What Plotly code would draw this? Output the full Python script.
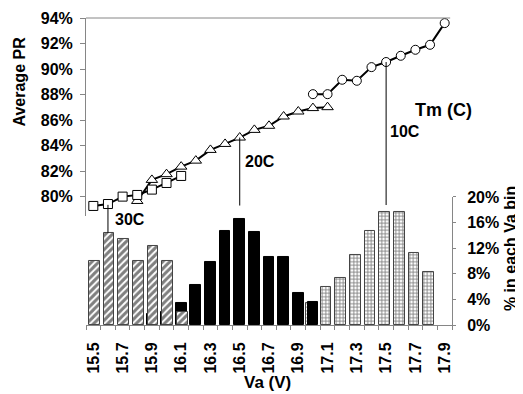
import plotly.graph_objects as go

# ---- data ----
va_tick_vals = [15.5, 15.7, 15.9, 16.1, 16.3, 16.5, 16.7, 16.9, 17.1, 17.3, 17.5, 17.7, 17.9]
va_tick_text = ["15.5", "15.7", "15.9", "16.1", "16.3", "16.5", "16.7", "16.9", "17.1", "17.3", "17.5", "17.7", "17.9"]

va_30 = [15.5, 15.6, 15.7, 15.8, 15.9, 16.0, 16.1]
pr_30 = [0.7927, 0.7942, 0.8000, 0.8013, 0.8055, 0.8107, 0.8162]

va_20 = [15.8, 15.9, 16.0, 16.1, 16.2, 16.3, 16.4, 16.5, 16.6, 16.7, 16.8, 16.9, 17.0, 17.1]
pr_20 = [0.7966, 0.8131, 0.8176, 0.8235, 0.8282, 0.8366, 0.8413, 0.8463, 0.8523, 0.8555, 0.8628, 0.8667, 0.8694, 0.8701]

va_10 = [17.0, 17.1, 17.2, 17.3, 17.4, 17.5, 17.6, 17.7, 17.8, 17.9]
pr_10 = [0.8803, 0.8803, 0.8916, 0.8908, 0.9015, 0.9055, 0.9104, 0.9151, 0.9190, 0.9360]

bin_x_30 = [15.5, 15.6, 15.7, 15.8, 15.9, 16.0, 16.1]
bin_30 = [0.100, 0.144, 0.134, 0.100, 0.123, 0.100, 0.020]

bin_x_20 = [15.9, 16.0, 16.1, 16.2, 16.3, 16.4, 16.5, 16.6, 16.7, 16.8, 16.9, 17.0]
bin_20 = [0.018, 0.021, 0.035, 0.0625, 0.098, 0.147, 0.165, 0.146, 0.107, 0.106, 0.050, 0.036]

bin_x_10 = [17.0, 17.1, 17.2, 17.3, 17.4, 17.5, 17.6, 17.7, 17.8]
bin_10 = [0.034, 0.060, 0.073, 0.109, 0.147, 0.177, 0.177, 0.113, 0.083]

FONT = "Liberation Sans, Arial, sans-serif"
AX = "#868686"
BW = 0.073

fig = go.Figure()

# bars (bottom panel, right axis)
fig.add_trace(go.Bar(
    x=bin_x_10, y=bin_10, xaxis="x", yaxis="y2", width=BW, offset=-BW / 2 - 0.01,
    marker=dict(color="white", line=dict(color="#444444", width=1),
                pattern=dict(shape="+", fgcolor="black", bgcolor="white", size=3.5, solidity=0.45)),
    showlegend=False))
fig.add_trace(go.Bar(
    x=bin_x_20, y=bin_20, xaxis="x", yaxis="y2", width=BW, offset=-BW / 2,
    marker=dict(color="black", line=dict(color="black", width=1)),
    showlegend=False))
fig.add_trace(go.Bar(
    x=bin_x_30, y=bin_30, xaxis="x", yaxis="y2", width=BW, offset=-BW / 2 + 0.008,
    marker=dict(color="white", line=dict(color="#444444", width=1),
                pattern=dict(shape="/", fgcolor="black", bgcolor="white", size=5, solidity=0.6)),
    showlegend=False))

# lines (top panel, left axis)
mk = dict(color="white", line=dict(color="black", width=1))
fig.add_trace(go.Scatter(x=va_20, y=pr_20, xaxis="x", yaxis="y", mode="lines+markers",
                         line=dict(color="black", width=2), cliponaxis=False,
                         marker=dict(symbol="triangle-up", size=10, **mk), showlegend=False))
fig.add_trace(go.Scatter(x=va_30, y=pr_30, xaxis="x", yaxis="y", mode="lines+markers",
                         line=dict(color="black", width=2), cliponaxis=False,
                         marker=dict(symbol="square", size=9, **mk), showlegend=False))
fig.add_trace(go.Scatter(x=va_10, y=pr_10, xaxis="x", yaxis="y", mode="lines+markers",
                         line=dict(color="black", width=2), cliponaxis=False,
                         marker=dict(symbol="circle", size=9, **mk), showlegend=False))

# leader lines from curves to histogram peaks
shapes = [
    dict(type="line", xref="x", x0=15.6, x1=15.6, yref="y2", ysizemode="pixel",
         yanchor=bin_30[1], y0=0, y1=28, line=dict(color="black", width=1)),
    dict(type="line", xref="x", x0=16.5, x1=16.5, yref="y", ysizemode="pixel",
         yanchor=pr_20[7], y0=0, y1=-68, line=dict(color="black", width=1)),
    dict(type="line", xref="x", x0=17.5, x1=17.5, yref="y", ysizemode="pixel",
         yanchor=pr_10[5], y0=0, y1=-143, line=dict(color="black", width=1)),
    dict(type="line", xref="paper", yref="paper", x0=0, x1=0.995, y0=1, y1=1,
         line=dict(color=AX, width=1)),
]

bold16 = dict(family=FONT, size=16, color="black", weight="bold")
ann = [
    dict(text="30C", x=0.074, y=0.343, xanchor="left", yanchor="middle"),
    dict(text="20C", x=0.430, y=0.534, xanchor="left", yanchor="middle"),
    dict(text="10C", x=0.824, y=0.629, xanchor="left", yanchor="middle"),
    dict(text="Tm (C)", x=0.893, y=0.699, xanchor="left", yanchor="middle",
         font=dict(family=FONT, size=18, color="black", weight="bold")),
    dict(text="Average PR", x=-0.1844, y=0.7915, xanchor="center", yanchor="middle", textangle=-90),
    dict(text="% in each Va bin", x=1.158, y=0.25, xanchor="center", yanchor="middle", textangle=-90),
    dict(text="Va (V)", x=0.497, y=-0.188, xanchor="center", yanchor="middle",
         font=dict(family=FONT, size=17, color="black", weight="bold")),
]
annotations = []
for a in ann:
    a.setdefault("font", bold16)
    annotations.append(dict(xref="paper", yref="paper", showarrow=False, **a))

# page body has an 8px margin: size the figure so the plot area lands in place
fig.update_layout(
    width=515, height=386,
    margin=dict(l=78, r=71, t=10, b=69, pad=0),
    paper_bgcolor="white", plot_bgcolor="rgba(0,0,0,0)",
    barmode="overlay", bargap=0,
    showlegend=False,
    font=bold16,
    xaxis=dict(range=[15.45, 17.95], anchor="y2", tickmode="array",
               tickvals=va_tick_vals, ticktext=va_tick_text, tickangle=-90,
               ticks="", ticklabelstandoff=10, showgrid=False, zeroline=False,
               showline=True, linecolor=AX, linewidth=1, tickfont=bold16,
               automargin=False,
               minor=dict(tick0=15.45, dtick=0.1, ticks="outside", ticklen=4,
                          tickcolor=AX, showgrid=False)),
    yaxis=dict(domain=[0.355, 1], range=[0.7848, 0.94], anchor="x", tickmode="array",
               tickvals=[0.80, 0.82, 0.84, 0.86, 0.88, 0.90, 0.92, 0.94],
               tickformat=".0%", ticks="outside", ticklen=5, tickcolor=AX,
               ticklabelstandoff=4, showgrid=False, zeroline=False, showline=True,
               linecolor=AX, linewidth=1, tickfont=bold16, automargin=False),
    yaxis2=dict(domain=[0, 0.417], range=[0, 0.2], anchor="x", side="right",
                tickmode="array", tickvals=[0, 0.04, 0.08, 0.12, 0.16, 0.20],
                tickformat=".0%", ticks="outside", ticklen=3, tickcolor=AX,
                ticklabelstandoff=8, showgrid=False, zeroline=False, showline=True,
                linecolor=AX, linewidth=1, tickfont=bold16, automargin=False),
    shapes=shapes,
    annotations=annotations,
)

fig.write_html("out.html")
